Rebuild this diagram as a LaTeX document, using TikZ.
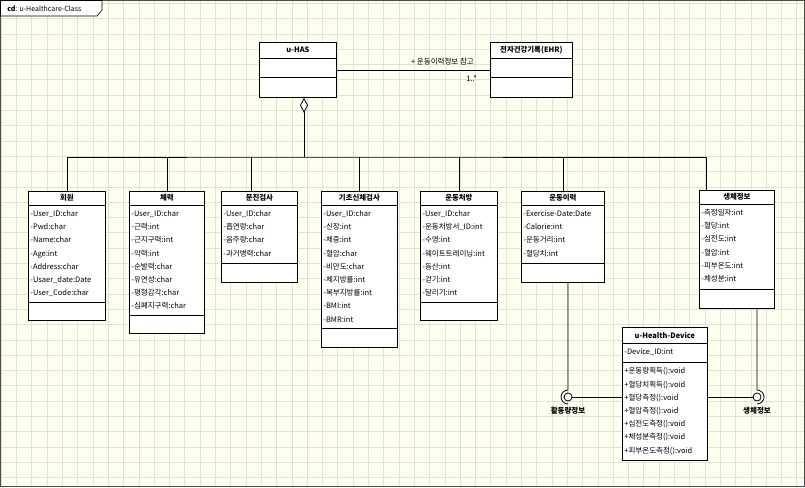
\documentclass[tikz,border=0pt]{standalone}
\usepackage{fontspec}
\setmainfont{Noto Sans CJK KR}
\usetikzlibrary{arrows.meta, positioning}
\definecolor{cream}{RGB}{255,255,240}
\definecolor{gridgray}{RGB}{226,226,212}

% class box: name, position, width, title h, attribute h, operation h, title, attributes
\newcommand{\umlclass}[8]{%
  \node[classbox, anchor=north west, minimum width=#3, minimum height={#4+#5+#6}] (#1) at #2 {};
  \node[classname] (#1-name) at ([yshift={-#4/2}]#1.north) {#7};
  \draw ([yshift=-#4]#1.north west) -- ([yshift=-#4]#1.north east);
  \draw ([yshift={-#4-#5}]#1.north west) -- ([yshift={-#4-#5}]#1.north east);
  \if\relax\detokenize{#8}\relax\else
    \foreach \t [count=\i] in {#8} {\node[member] (#1-a\i) at ([xshift=2pt, yshift={-#4-9.5-13.2*(\i-1)}]#1.north west) {\t};}
  \fi
}

\begin{document}
\begin{tikzpicture}[x=1pt, y=-1pt, line width=0.8pt,
  classbox/.style={draw, fill=white, inner sep=0pt},
  classname/.style={inner sep=0pt, font=\bfseries\fontsize{7.4}{8}\selectfont},
  member/.style={anchor=west, inner sep=0pt, text height=5.4pt, text depth=1.6pt, font=\fontsize{7.5}{8}\selectfont},
  aggr/.style={{Diamond[fill=white, length=15pt, width=8pt]}-},
  ball/.style={circle, draw, fill=white, minimum size=8pt, inner sep=0pt}]
  % paper and grid
  \fill[cream] (0,0) rectangle (805,487);
  \useasboundingbox (0,0) rectangle (805,487);
  \begin{scope}[shift={(1.1,3.2)}]
    \draw[gridgray, line width=0.5pt, step=15.3pt] (-1.1,-3.2) grid (803.9,483.8);
  \end{scope}
  \draw[black!70, line width=0.6pt] (0.5,0.5) rectangle (804.5,486.5);

  % diagram frame
  \draw[fill=white, line width=0.6pt] (0.5,0.5) -- (102,0.5) -- (102,10) -- (97,16) -- (0.5,16) -- cycle;
  \node[anchor=west, inner sep=0pt, font=\fontsize{7}{8}\selectfont] (frametitle) at (7,8.5) {\textbf{cd}: u-Healthcare-Class};

  % classes
  \umlclass{uhas}{(259,42)}{77}{16}{19}{20}{u-HAS}{}
  \umlclass{ehr}{(490,42)}{82}{16}{19}{20}{전자건강기록(EHR)}{}
  \umlclass{hoewon}{(28,191)}{77}{14}{97}{18}{회원}{-User\_ID:char, -Pwd:char, -Name:char, -Age:int, -Address:char, -Usaer\_date:Date, -User\_Code:char}
  \umlclass{cheryeok}{(129,191)}{75}{14}{110}{18}{체력}{-User\_ID:char, -근력:int, -근지구력:int, -악력:int, -순발력:char, -유연성:char, -평형감각:char, -심폐지구력:char}
  \umlclass{munjin}{(221,191)}{76}{14}{58}{19}{문진검사}{-User\_ID:char, -흡연량:char, -음주량:char, -과거병력:char}
  \umlclass{gicho}{(321,191)}{76}{14}{123}{19}{기초신체검사}{-User\_ID:char, -신장:int, -체중:int, -혈압:char, -비만도:char, -체지방률:int, -복부지방률:int, -BMI:int, -BMR:int}
  \umlclass{cheobang}{(420,191)}{77}{14}{97}{18}{운동처방}{-User\_ID:char, -운동처방서\_ID:int, -수영:int, -웨이트트레이닝:int, -등산:int, -걷기:int, -달리기:int}
  \umlclass{ihyeok}{(521,191)}{83}{14}{58}{19}{운동이력}{-Exercise-Date:Date, -Calorie:int, -운동거리:int, -혈당치:int}
  \umlclass{saengche}{(699,190)}{75}{14}{85}{19}{생체정보}{-측정일자:int, -혈당:int, -심전도:int, -혈압:int, -피부온도:int, -체성분:int}
  \umlclass{device}{(622,327)}{85}{16}{19}{98}{u-Health-Device}{-Device\_ID:int}
  \foreach \t [count=\i] in {+운동량획득():void, +혈당치획득():void, +혈당측정():void, +혈압측정():void, +심전도측정():void, +체성분측정():void, +피부온도측정():void}
    {\node[member] (device-o\i) at ([xshift=2pt, yshift={-45-13.2*(\i-1)}]device.north west) {\t};}

  % association
  \draw (uhas.east) -- (ehr.west)
    node[pos=0.69, above=3pt, member, anchor=south] (assoc) {+ 운동이력정보 참고}
    node[pos=0.88, below=6pt, member, anchor=north] (mult) {1..*};

  % aggregation
  \coordinate (bus) at (304,157);
  \coordinate (mIn) at ([xshift=-8pt]munjin.north);
  \coordinate (sIn) at ([xshift=-31pt]saengche.north);
  \draw[aggr] (uhas.south -| bus) -- (bus);
  \draw (hoewon.north) |- (bus) -| (sIn);
  \draw (mIn) -- (mIn |- bus);
  \foreach \n in {cheryeok, gicho, cheobang, ihyeok}
    \draw (\n.north) -- (\n.north |- bus);

  % interfaces
  \node[ball] (ballL) at (568,397) {};
  \node[ball] (ballR) at (757,397) {};
  \coordinate (sockL) at (568,390);
  \coordinate (sockR) at (757,390);
  \draw (device.west |- ballL) -- (ballL);
  \draw (device.east |- ballR) -- (ballR);
  \draw (sockL |- ihyeok.south) -- (sockL) arc[start angle=90, end angle=270, radius=7pt];
  \draw (sockR |- saengche.south) -- (sockR) arc[start angle=90, end angle=-90, radius=7pt];
  \node[member, anchor=north, below=6pt of ballL] (lblL) {\bfseries 활동량정보};
  \node[member, anchor=north, below=6pt of ballR] (lblR) {\bfseries 생체정보};
\end{tikzpicture}
\end{document}
